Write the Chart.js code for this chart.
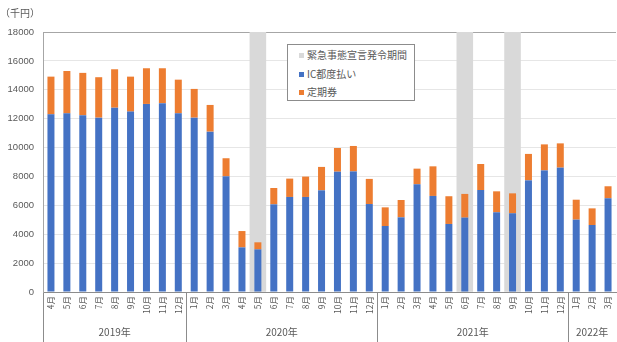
<!DOCTYPE html>
<html>
<head>
<meta charset="utf-8">
<script src="https://cdn.jsdelivr.net/npm/chart.js@4/dist/chart.umd.min.js"></script>
<style>
  html, body { margin: 0; padding: 0; background: #fff; }
  #wrap { position: relative; width: 617px; height: 342px; }
  #legend {
    position: absolute; left: 287px; top: 44px; width: 126px; height: 55px;
    border: 1px solid #8c8c8c; background: #fff;
    font-family: "Noto Sans CJK JP", "Liberation Sans", sans-serif; font-size: 10px; color: #595959;
  }
  #legend div { position: absolute; left: 11px; height: 14px; line-height: 14px; white-space: nowrap; }
  #legend span.sw { display: inline-block; width: 5px; height: 5px; margin-right: 3px; vertical-align: 1px; }
</style>
</head>
<body>
<div id="wrap">
  <canvas id="c" width="617" height="342"></canvas>
  <div id="legend"></div>
</div>
<script>
const months = ['4月','5月','6月','7月','8月','9月','10月','11月','12月',
  '1月','2月','3月','4月','5月','6月','7月','8月','9月','10月','11月','12月',
  '1月','2月','3月','4月','5月','6月','7月','8月','9月','10月','11月','12月',
  '1月','2月','3月'];
const yearLabels = ['2019年','2020年','2021年','2022年'];
const yearCenters = [4, 14.5, 26.5, 34];
const yearBounds = [0, 9, 21, 33];

const icPay = [12300,12370,12240,12070,12760,12490,13020,13070,12370,
  12070,11100,8010,3090,2950,6070,6580,6580,7040,8330,8350,6090,
  4570,5170,7460,6650,4710,5150,7060,5520,5450,7730,8420,8610,
  5010,4640,6490];
const commuter = [2610,2930,2930,2800,2660,2420,2470,2420,2330,
  1990,1850,1250,1130,490,1130,1270,1410,1620,1640,1760,1740,
  1290,1200,1080,2050,1920,1640,1800,1450,1380,1830,1800,1680,
  1380,1150,830];
const emergency = [null,null,null,null,null,null,null,null,null,
  null,null,null,null,18000,null,null,null,null,null,null,null,
  null,null,null,null,null,18000,null,null,18000,null,null,null,
  null,null,null];

const seriesNames = ['緊急事態宣言発令期間','IC都度払い','定期券'];
const seriesColors = ['#d9d9d9','#4472c4','#ed7d31'];

const FONT = '"Liberation Sans", "Noto Sans CJK JP", sans-serif';
const TXT = '#595959';

new Chart(document.getElementById('c'), {
  type: 'bar',
  data: {
    labels: months,
    datasets: [
      { label: seriesNames[0], data: emergency, backgroundColor: seriesColors[0],
        stack: 'band', grouped: false, barPercentage: 1, categoryPercentage: 1, order: 1 },
      { label: seriesNames[1], data: icPay, backgroundColor: seriesColors[1],
        stack: 'main', barPercentage: 1, categoryPercentage: 0.44, order: 0 },
      { label: seriesNames[2], data: commuter, backgroundColor: seriesColors[2],
        stack: 'main', barPercentage: 1, categoryPercentage: 0.44, order: 0 }
    ]
  },
  options: {
    responsive: false,
    animation: false,
    layout: { padding: { left: 0, right: 1, top: 0, bottom: 0 } },
    plugins: {
      legend: { display: false },
      tooltip: { enabled: false },
      title: {
        display: true, text: '（千円）', align: 'start', color: TXT,
        font: { family: '"Noto Sans CJK JP", sans-serif', size: 10, weight: 'normal' },
        padding: { top: 7, bottom: 13 }
      }
    },
    scales: {
      x: {
        type: 'category', position: 'bottom', stacked: true, offset: true, weight: 0,
        grid: {
          offset: true, drawOnChartArea: false, drawTicks: true, tickLength: 50,
          color: (ctx) => (ctx.index !== undefined && yearBounds.includes(ctx.index)) ? '#8c8c8c' : 'rgba(0,0,0,0)',
          lineWidth: 1
        },
        border: { display: true, color: '#8c8c8c', width: 1 },
        ticks: {
          color: TXT, font: { family: '"Noto Sans CJK JP", sans-serif', size: 8.5 },
          minRotation: 90, maxRotation: 90, autoSkip: false, padding: -46
        },
        afterFit: (s) => { s.height = 26; }
      },
      x2: {
        type: 'linear', position: 'bottom', min: -0.5, max: 35.5, weight: 1, offset: false,
        grid: { display: false, drawTicks: false, offset: false },
        border: { display: false },
        afterBuildTicks: (axis) => { axis.ticks = yearCenters.map(v => ({ value: v })); },
        ticks: {
          color: TXT, font: { family: '"Noto Sans CJK JP", sans-serif', size: 10 },
          maxRotation: 0, minRotation: 0, autoSkip: false, padding: 8,
          callback: (v) => { const i = yearCenters.indexOf(v); return i >= 0 ? yearLabels[i] : ''; }
        },
        afterFit: (s) => { s.height = 24; }
      },
      y: {
        stacked: true, min: 0, max: 18000,
        grid: {
          drawTicks: false,
          color: (ctx) => (ctx.tick && ctx.tick.value === 18000) ? '#a6a6a6' : '#e6e6e6'
        },
        border: { display: true, color: '#a6a6a6', width: 1 },
        ticks: {
          stepSize: 2000, color: TXT, padding: 9,
          font: { family: FONT, size: 9.5 },
          callback: (v) => String(v)
        },
        afterFit: (s) => { s.width = 43; }
      }
    }
  }
});

// HTML legend built from series names/colors
const lg = document.getElementById('legend');
seriesNames.forEach((n, i) => {
  const d = document.createElement('div');
  d.style.top = (3 + i * 18.5) + 'px';
  d.innerHTML = '<span class="sw" style="background:' + seriesColors[i] + '"></span>' + n;
  lg.appendChild(d);
});
</script>
</body>
</html>
